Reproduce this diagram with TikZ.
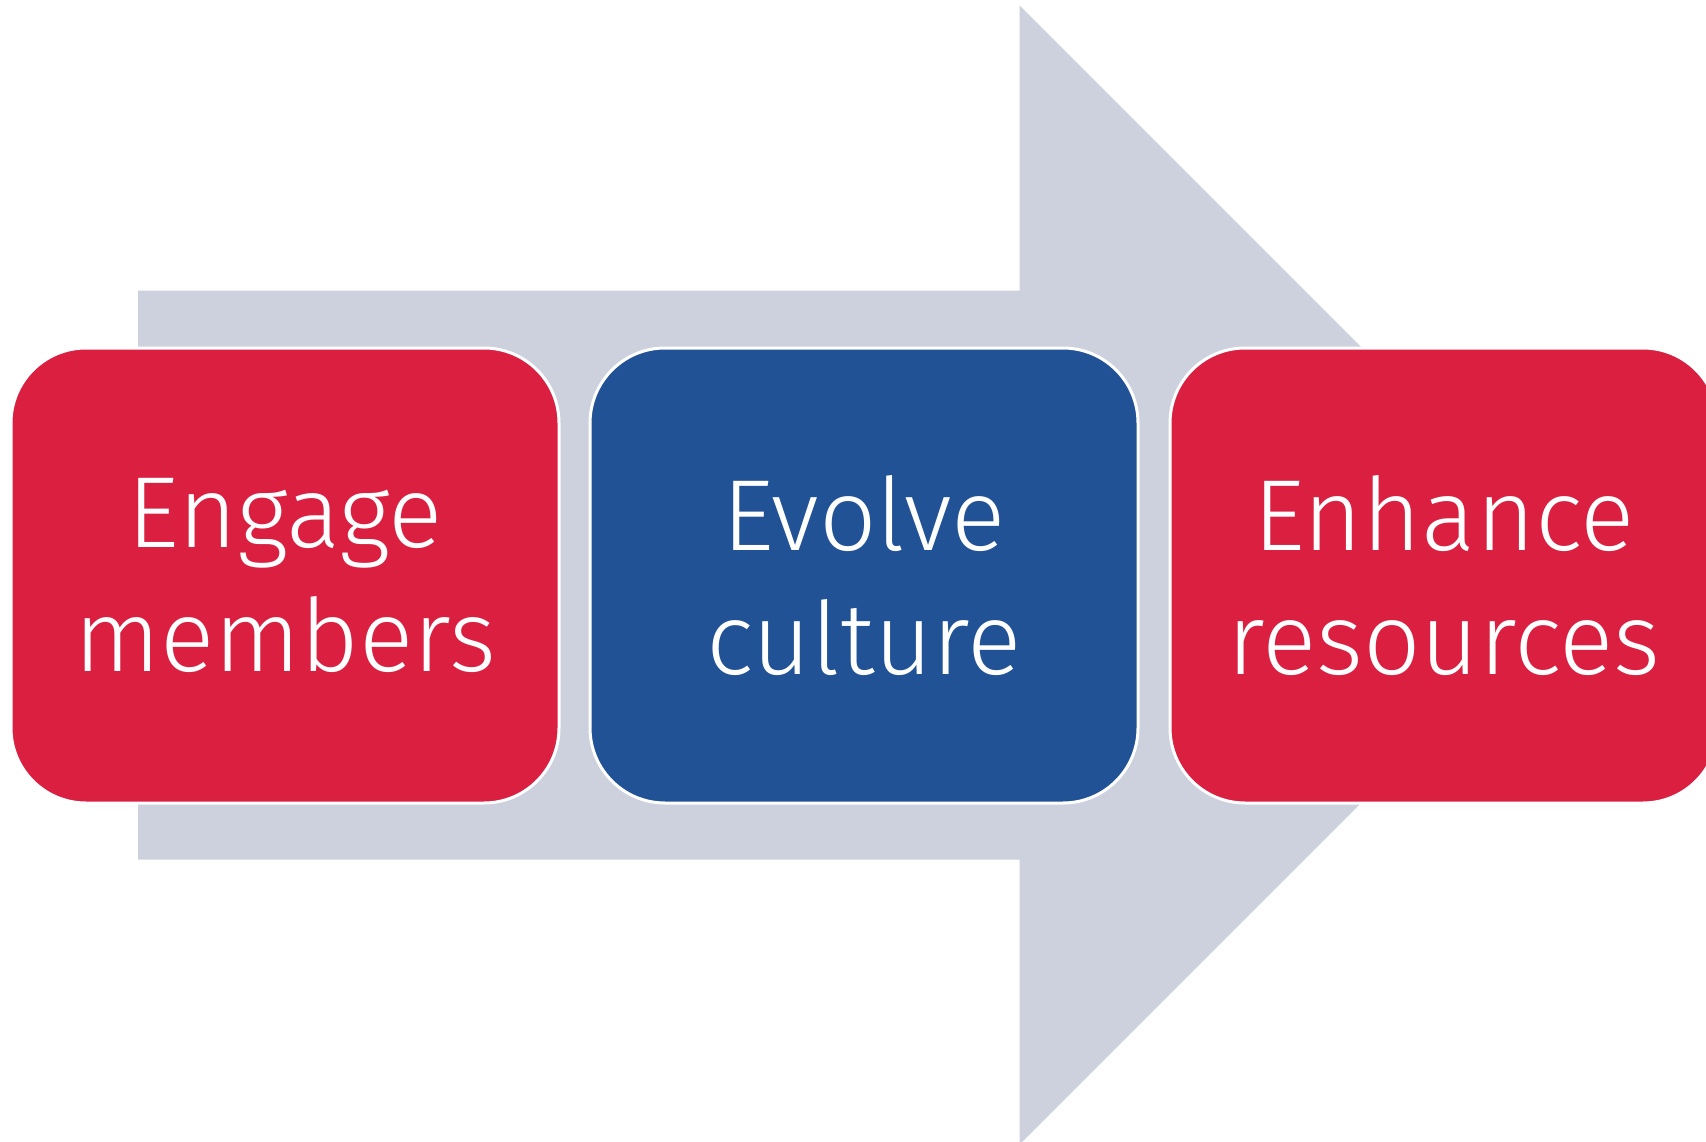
\documentclass[tikz,border=0pt]{standalone}
\usepackage{fontspec}
\setmainfont{Fira Sans}[UprightFont={* Light}]
\definecolor{redc}{HTML}{DA1F41}
\definecolor{bluec}{HTML}{215295}
\definecolor{grayc}{HTML}{CCD1DD}
\tikzset{
  box/.style={draw=white, line width=3pt, rounded corners=75pt,
    minimum width=548pt, minimum height=455pt, inner sep=0pt,
    text=white, align=center, font=\fontsize{101}{124}\selectfont},
  bigarrow/.style={fill=grayc, draw=none}
}
\begin{document}
\begin{tikzpicture}[x=1pt,y=-1pt]
\useasboundingbox (0,0) rectangle (1706,1142);
\clip (0,0) rectangle (1706,1142);
\fill[white] (0,0) rectangle (1706,1142);
\path[bigarrow] (138,290.5) -- (1019.5,290.5) -- (1019.5,5.4) -- (1589,575)
  -- (1019.5,1144.6) -- (1019.5,859.5) -- (138,859.5) -- cycle;
\node[box, fill=redc] (b1) at (285,575.5) {Engage\\members};
\node[box, fill=bluec] (b2) at (864,575.5) {Evolve\\culture};
\node[box, fill=redc] (b3) at (1444,575.5) {Enhance\\resources};
\end{tikzpicture}
\end{document}
